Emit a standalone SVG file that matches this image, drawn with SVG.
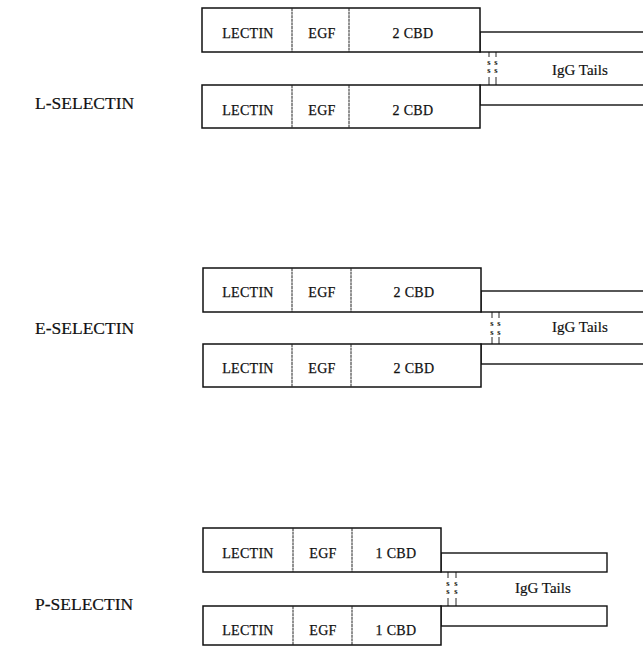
<svg xmlns="http://www.w3.org/2000/svg" width="643" height="647" viewBox="0 0 643 647">
<style>
.box{fill:#fff;stroke:#111;stroke-width:1.5}
.tail{fill:#fff;stroke:#111;stroke-width:1.4}
.div{stroke:#222;stroke-width:1;stroke-dasharray:3 0.6}
.lbl{font-family:"Liberation Serif",serif;font-size:14px;letter-spacing:0.3px;fill:#111;stroke:#111;stroke-width:0.25;text-anchor:middle}
.side{font-family:"Liberation Serif",serif;font-size:17.5px;fill:#111;stroke:#111;stroke-width:0.2}
.igg{font-family:"Liberation Serif",serif;font-size:15px;fill:#111;stroke:#111;stroke-width:0.2}
.s{font-family:"Liberation Serif",serif;font-size:8.5px;font-weight:bold;fill:#111;text-anchor:middle}
.tick{stroke:#111;stroke-width:0.9}
</style>
<rect width="643" height="647" fill="#fff"/>

<g id="l-selectin">
  <text class="side" x="35" y="109">L-SELECTIN</text>
  <g id="l-chain-1">
    <rect class="tail" x="480" y="32" width="180" height="20"/>
    <rect class="box" x="202" y="8" width="278" height="44"/>
    <line class="div" x1="292" y1="8" x2="292" y2="52"/>
    <line class="div" x1="349" y1="8" x2="349" y2="52"/>
    <text class="lbl" x="248" y="38">LECTIN</text>
    <text class="lbl" x="322" y="38">EGF</text>
    <text class="lbl" x="413" y="38">2 CBD</text>
  </g>
  <g id="l-chain-2">
    <rect class="tail" x="480" y="85" width="180" height="20"/>
    <rect class="box" x="202" y="85" width="278" height="43"/>
    <line class="div" x1="292" y1="85" x2="292" y2="128"/>
    <line class="div" x1="349" y1="85" x2="349" y2="128"/>
    <text class="lbl" x="248" y="115">LECTIN</text>
    <text class="lbl" x="322" y="115">EGF</text>
    <text class="lbl" x="413" y="115">2 CBD</text>
  </g>
  <text class="igg" x="552" y="75">IgG Tails</text>
</g>

<g id="e-selectin">
  <text class="side" x="35" y="334">E-SELECTIN</text>
  <g id="e-chain-1">
    <rect class="tail" x="481" y="291" width="180" height="21"/>
    <rect class="box" x="203" y="268" width="278" height="44"/>
    <line class="div" x1="292" y1="268" x2="292" y2="312"/>
    <line class="div" x1="351" y1="268" x2="351" y2="312"/>
    <text class="lbl" x="248" y="297">LECTIN</text>
    <text class="lbl" x="322" y="297">EGF</text>
    <text class="lbl" x="414" y="297">2 CBD</text>
  </g>
  <g id="e-chain-2">
    <rect class="tail" x="481" y="344" width="180" height="20"/>
    <rect class="box" x="203" y="344" width="278" height="43"/>
    <line class="div" x1="292" y1="344" x2="292" y2="387"/>
    <line class="div" x1="351" y1="344" x2="351" y2="387"/>
    <text class="lbl" x="248" y="373">LECTIN</text>
    <text class="lbl" x="322" y="373">EGF</text>
    <text class="lbl" x="414" y="373">2 CBD</text>
  </g>
  <text class="igg" x="552" y="332">IgG Tails</text>
</g>

<g id="p-selectin">
  <text class="side" x="35" y="610">P-SELECTIN</text>
  <g id="p-chain-1">
    <rect class="tail" x="441" y="553" width="166" height="19"/>
    <rect class="box" x="203" y="528" width="238" height="44"/>
    <line class="div" x1="293" y1="528" x2="293" y2="572"/>
    <line class="div" x1="352" y1="528" x2="352" y2="572"/>
    <text class="lbl" x="248" y="558">LECTIN</text>
    <text class="lbl" x="323" y="558">EGF</text>
    <text class="lbl" x="396" y="558">1 CBD</text>
  </g>
  <g id="p-chain-2">
    <rect class="tail" x="441" y="606" width="166" height="20"/>
    <rect class="box" x="203" y="606" width="238" height="39"/>
    <line class="div" x1="293" y1="606" x2="293" y2="645"/>
    <line class="div" x1="352" y1="606" x2="352" y2="645"/>
    <text class="lbl" x="248" y="635">LECTIN</text>
    <text class="lbl" x="323" y="635">EGF</text>
    <text class="lbl" x="396" y="635">1 CBD</text>
  </g>
  <text class="igg" x="515" y="593">IgG Tails</text>
</g>

<g id="connectors">
  <g id="l-ss">
    <line class="tick" x1="489" y1="52" x2="489" y2="57"/>
    <line class="tick" x1="496" y1="52" x2="496" y2="57"/>
    <text class="s" x="489" y="64.5">s</text><text class="s" x="496" y="64.5">s</text>
    <text class="s" x="489" y="73">s</text><text class="s" x="496" y="73">s</text>
    <line class="tick" x1="489" y1="77" x2="489" y2="85"/>
    <line class="tick" x1="496" y1="77" x2="496" y2="85"/>
  </g>
  <g id="e-ss">
    <line class="tick" x1="492" y1="312" x2="492" y2="318"/>
    <line class="tick" x1="499" y1="312" x2="499" y2="318"/>
    <text class="s" x="492" y="326">s</text><text class="s" x="499" y="326">s</text>
    <text class="s" x="492" y="334.5">s</text><text class="s" x="499" y="334.5">s</text>
    <line class="tick" x1="492" y1="337" x2="492" y2="344"/>
    <line class="tick" x1="499" y1="337" x2="499" y2="344"/>
  </g>
  <g id="p-ss">
    <line class="tick" x1="448" y1="572" x2="448" y2="578"/>
    <line class="tick" x1="456" y1="572" x2="456" y2="578"/>
    <text class="s" x="448" y="585.5">s</text><text class="s" x="456" y="585.5">s</text>
    <text class="s" x="448" y="594">s</text><text class="s" x="456" y="594">s</text>
    <line class="tick" x1="448" y1="598" x2="448" y2="606"/>
    <line class="tick" x1="456" y1="598" x2="456" y2="606"/>
  </g>
</g>
</svg>
